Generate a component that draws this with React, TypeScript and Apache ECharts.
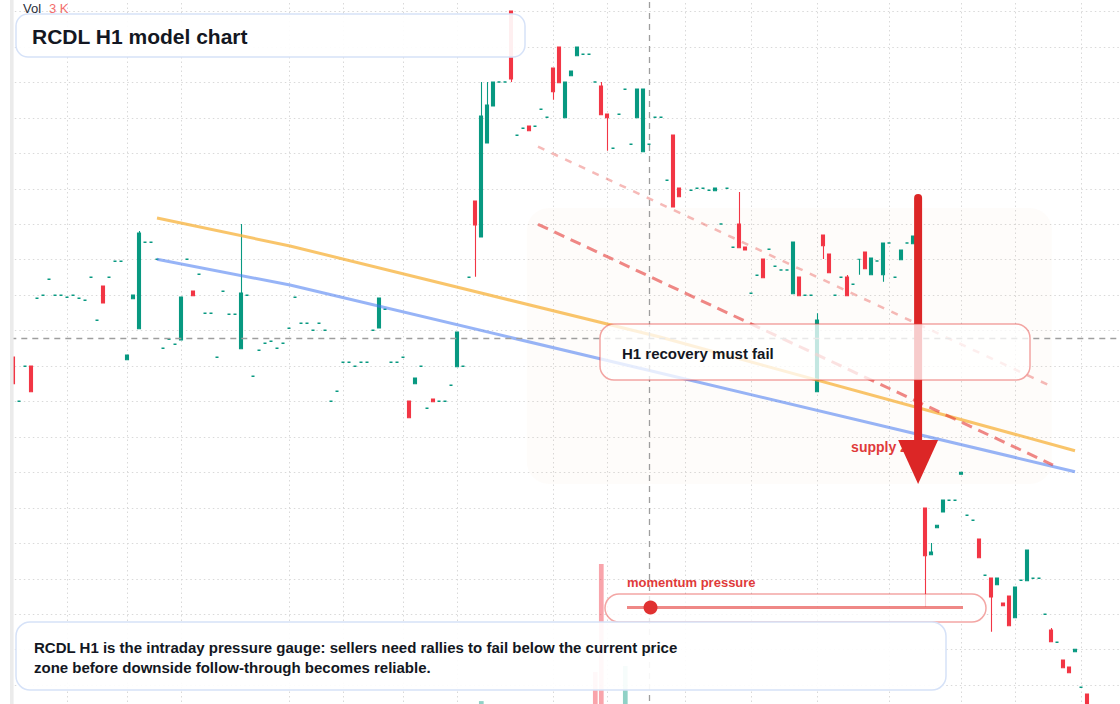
import React, { useEffect, useRef } from 'react';
import * as echarts from 'echarts';

const UP = '#089981';
const DOWN = '#F23645';
const INK = '#131722';
const ALERT = '#DC2626';
const FONT = '"Liberation Sans", Arial, sans-serif';

// slots on the time scale (the last few are still empty)
const BAR_COUNT = 185;
// one horizontal grid step on the price scale
const PRICE_STEP = 0.3545;
const PRICE_MAX = PRICE_STEP * 22;

// H1 bars as [open, close, low, high]; a single number is a flat print, null = no print
const candles: (number | number[] | null)[] = [
  [3.99, 3.723, 3.723, 3.99], 3.547, 3.897, [3.9, 3.643, 3.643, 3.9], 4.577,
  4.607, 4.767, 4.607, 4.607, 4.587, 4.607, 4.577, 4.557, 4.787, 4.357,
  [4.7, 4.53, 4.53, 4.7], 4.787, 4.947, 4.947, [3.963, 4.01, 3.963, 4.01],
  [4.573, 4.61, 4.573, 4.61], [4.273, 5.23, 4.273, 5.25], 5.137, 5.137, 4.967,
  4.077, 4.167, 4.117, [4.16, 4.59, 4.16, 4.59], 4.967,
  [4.65, 4.603, 4.603, 4.65], 4.817, 4.427, 4.427, 3.987,
  4.647, 4.417, 4.417, [4.073, 4.63, 4.073, 5.32], 4.607,
  3.797, 4.057, 4.127, 4.147, 4.077,
  4.127, 4.277, 4.587, 4.327, 4.327,
  4.257, 4.327, 4.257, 3.547, 3.647,
  3.937, 3.937, 3.897, 3.937, 3.937,
  4.257, [4.28, 4.58, 4.28, 4.58], 4.467, 3.937, 3.937,
  3.987, [3.55, 3.383, 3.383, 3.55], [3.723, 3.78, 3.723, 3.78], 3.897, 3.477,
  [3.57, 3.543, 3.543, 3.57], 3.547, 3.547, 3.707, [3.893, 4.24, 3.893, 4.24],
  3.897, 4.787, [5.55, 5.31, 4.793, 5.55], [5.19, 6.4, 5.19, 6.74], [6.13, 6.51, 6.13, 6.74],
  [6.5, 6.74, 6.5, 6.74], 6.74, 6.74, [7.45, 6.77, 6.74, 7.45], 6.207,
  6.277, [6.3, 6.253, 6.253, 6.3], 6.297, 6.467, 6.387,
  [6.88, 6.643, 6.563, 6.88], [7.09, 6.733, 6.733, 7.09], [6.383, 6.74, 6.383, 6.74], [6.803, 6.85, 6.803, 6.85], [7.003, 7.09, 7.003, 7.09],
  7.017, 7.017, 6.74, [6.7, 6.413, 6.413, 6.74], [6.42, 6.383, 6.053, 6.42],
  6.077, 6.417, 6.667, 6.117, [6.383, 6.67, 6.383, 6.67],
  [6.043, 6.67, 6.043, 6.67], 6.117, 6.387, 6.387, 5.757,
  [6.21, 5.49, 5.49, 6.21], [5.68, 5.593, 5.593, 5.68], null, 5.657, 5.677,
  5.677, 5.657, [5.653, 5.68, 5.653, 5.68], 5.32, 5.677,
  5.087, [5.32, 5.083, 5.083, 5.64], [5.09, 5.06, 5.06, 5.09], 4.627, 4.807,
  [4.97, 4.783, 4.783, 4.97], 5.067, 4.897, 4.86, 4.86,
  [4.623, 5.14, 4.623, 5.14], [4.79, 4.603, 4.603, 4.79], 4.607, 4.607, [3.643, 4.36, 3.643, 4.427],
  [5.21, 5.103, 4.97, 5.21], [5.02, 4.833, 4.833, 5.02], 4.607, 4.787, [4.79, 4.603, 4.603, 4.81],
  4.717, [4.967, 4.967, 4.813, 4.967], [5.04, 4.873, 4.873, 5.04], [4.813, 4.98, 4.813, 4.98], 4.95,
  [4.813, 5.13, 4.743, 5.13], 5.13, 4.787, [4.963, 5.06, 4.963, 5.06], 5.13,
  [5.123, 5.2, 5.123, 5.2], null, [2.48, 2.003, 1.49, 2.48], [2.013, 2.04, 2.013, 2.13], [2.283, 2.307, 2.283, 2.307],
  [2.44, 2.56, 2.44, 2.56], 2.557, 2.557, [2.817, 2.837, 2.817, 2.837], 2.407,
  2.357, [2.17, 1.983, 1.983, 2.17], 1.807, [1.78, 1.59, 1.243, 1.78], [1.713, 1.78, 1.713, 1.78],
  [1.53, 1.503, 1.503, 1.53], [1.6, 1.303, 1.303, 1.6], [1.383, 1.69, 1.383, 1.69], 1.757, [1.753, 2.06, 1.753, 2.06],
  1.777, 1.777, 1.417, [1.26, 1.143, 1.143, 1.28], 1.137,
  [0.96, 0.883, 0.883, 0.96], [0.89, 0.833, 0.833, 0.89], [1.043, 1.067, 1.043, 1.067], 0.687, [0.62, 0.44, 0.44, 0.62],
];

// bar index, volume in K (only the bars tall enough to show)
const volumes: [number, number][] = [
  [78, 3.43], [97, 4.4], [98, 8.0], [102, 4.6], [179, 3.0],
];

// session boundaries on the time scale
const sessionBreaks = [9, 19, 28, 46, 55, 65, 74, 90, 99, 112, 123, 134, 146, 158, 167, 178];

// drawn levels: [bar index, price]
const supplyCeiling = [[23.95, 5.38], [46.12, 5.1], [107.78, 4.19], [176.95, 3.053]];
const demandFloor = [[23.95, 4.967], [46.12, 4.71], [176.95, 2.843]];
const channelTop = [[87.45, 6.093], [173.12, 3.693]];
const channelBottom = [[87.45, 5.317], [173.28, 2.91]];

const crosshair = { index: 105.95, price: 4.18 };
const supplyZone = { from: 85.6, to: 173.1, top: 5.48, bottom: 2.72 };
const breakdown = { index: 150.8, from: 5.62, to: 2.72 };
const momentumPressure = 0.07;

const categories = Array.from({ length: BAR_COUNT }, (_, i) => `H${i + 1}`);

const closeAt = (i: number) => {
  const c = candles[i];
  if (c == null) return NaN;
  return typeof c === 'number' ? c : c[1];
};

const dotted = { color: '#d9d9d9', width: 1, type: [1.5, 3] as number[] };

function buildOption(): echarts.EChartsOption {
  const ohlc = categories.map((_, i) => {
    const c = candles[i];
    if (c == null) return ['-', '-', '-', '-'];
    if (typeof c === 'number') {
      // flat prints are drawn a bit heavier, like the terminal does
      return { value: [c, c, c, c], itemStyle: { borderWidth: 1.6 } };
    }
    return c;
  });

  const volumeData: any[] = categories.map(() => '-');
  volumes.forEach(([i, v]) => {
    const up = !(closeAt(i) < closeAt(i - 1));
    volumeData[i] = {
      value: v,
      itemStyle: { color: up ? 'rgba(8,153,129,0.45)' : 'rgba(242,54,69,0.45)' },
    };
  });

  const level = (data: number[][], color: string, width: number, type: any, z = 4) => ({
    type: 'line' as const,
    xAxisIndex: 1,
    yAxisIndex: 0,
    data,
    symbol: 'none',
    silent: true,
    z,
    lineStyle: { color, width, type },
  });

  return {
    animation: false,
    backgroundColor: '#ffffff',
    grid: [
      { left: 10.3, right: -0.3, top: -23.9, bottom: -52, outerBoundsMode: 'none' } as any,
      { left: 10.3, right: -0.3, top: 504, bottom: -100, outerBoundsMode: 'none' } as any,
    ],
    xAxis: [
      {
        type: 'category', gridIndex: 0, data: categories, boundaryGap: true,
        axisLine: { show: false }, axisTick: { show: false }, axisLabel: { show: false },
        splitLine: { show: false },
      },
      { type: 'value', gridIndex: 0, min: -0.5, max: BAR_COUNT - 0.5, show: false },
      { type: 'category', gridIndex: 1, data: categories, boundaryGap: true, show: false },
    ],
    yAxis: [
      {
        type: 'value', gridIndex: 0, min: 0, max: PRICE_MAX, interval: PRICE_STEP,
        axisLine: { show: false }, axisTick: { show: false }, axisLabel: { show: false },
        splitLine: { show: true, lineStyle: dotted },
      },
      { type: 'value', gridIndex: 1, min: 0, max: 10, show: false },
    ],
    series: [
      {
        type: 'line', xAxisIndex: 1, yAxisIndex: 0, data: [[0, 0]], symbol: 'none',
        lineStyle: { width: 0 }, silent: true, z: 1,
        markLine: {
          silent: true, z: 1, symbol: ['none', 'none'], label: { show: false },
          lineStyle: dotted,
          data: sessionBreaks.map((x) => ({ xAxis: x })),
        },
      },
      {
        type: 'bar', xAxisIndex: 2, yAxisIndex: 1, data: volumeData,
        barWidth: 4.7, silent: true, z: 1,
      },
      {
        type: 'candlestick', xAxisIndex: 0, yAxisIndex: 0, data: ohlc as any,
        barWidth: 3.5, z: 3,
        itemStyle: {
          color: UP, color0: DOWN, borderColor: UP, borderColor0: DOWN,
          borderColorDoji: UP, borderWidth: 1.1,
        } as any,
      },
      level(supplyCeiling, 'rgba(247,178,58,0.75)', 3, 'solid'),
      level(demandFloor, 'rgba(66,118,240,0.55)', 3, 'solid'),
      level(channelTop, 'rgba(229,57,53,0.35)', 2.5, [7, 8]),
      level(channelBottom, 'rgba(229,57,53,0.6)', 3, [11, 7]),
      {
        type: 'line', xAxisIndex: 1, yAxisIndex: 0, data: [[0, 0]], symbol: 'none',
        lineStyle: { width: 0 }, silent: true, z: 2,
        markLine: {
          silent: true, z: 5, symbol: ['none', 'none'], label: { show: false },
          lineStyle: { color: '#9e9e9e', width: 1.3, type: [6, 5] },
          data: [{ xAxis: crosshair.index }, { yAxis: crosshair.price }],
        },
      },
    ],
  };
}

function text(x: number, y: number, content: string, font: string, fill: string, z: number) {
  return {
    type: 'text', x, y, z, silent: true,
    style: {
      text: content, font, fill,
      align: 'left', verticalAlign: 'middle',
      textAlign: 'left', textVerticalAlign: 'middle',
    },
  };
}

function buildOverlay(chart: echarts.ECharts) {
  const px = (x: number, p: number) =>
    chart.convertToPixel({ xAxisIndex: 1, yAxisIndex: 0 } as any, [x, p]) as number[];
  const [zx0, zy0] = px(supplyZone.from, supplyZone.top);
  const [zx1, zy1] = px(supplyZone.to, supplyZone.bottom);
  const [ax, ay0] = px(breakdown.index, breakdown.from);
  const [, ay1] = px(breakdown.index, breakdown.to);

  const trackX0 = 627;
  const trackX1 = 963;
  const knobX = trackX0 + momentumPressure * (trackX1 - trackX0);
  const lastVol = volumes[volumes.length - 1][1];

  const blueBox = { fill: 'rgba(255,255,255,0.92)', stroke: '#d6e2f8', lineWidth: 1.5 };
  const redBox = (fill: string) => ({ fill, stroke: 'rgba(229,57,53,0.45)', lineWidth: 1.5 });

  return [
    {
      type: 'rect', z: 1, silent: true,
      shape: { x: zx0, y: zy0, width: zx1 - zx0, height: zy1 - zy0, r: 22 },
      style: { fill: 'rgba(235,190,160,0.05)' },
    },
    text(ax - 67, ay1 - 37, 'supply zone', `bold 14px ${FONT}`, '#E03A3A', 10),
    {
      type: 'line', z: 20, silent: true,
      shape: { x1: ax, y1: ay0 + 4, x2: ax, y2: ay1 - 40 },
      style: { stroke: ALERT, lineWidth: 8, lineCap: 'round' },
    },
    {
      type: 'polygon', z: 20, silent: true,
      shape: { points: [[ax - 20, ay1 - 44], [ax + 20, ay1 - 44], [ax, ay1]] },
      style: { fill: ALERT },
    },
    {
      type: 'rect', z: 30, silent: true,
      shape: { x: 600, y: 324, width: 430, height: 56, r: 14 },
      style: redBox('rgba(255,255,255,0.76)'),
    },
    text(622, 353, 'H1 recovery must fail', `bold 15px ${FONT}`, INK, 31),
    text(627, 582, 'momentum pressure', `bold 13px ${FONT}`, '#E03A3A', 31),
    {
      type: 'rect', z: 30, silent: true,
      shape: { x: 605, y: 594, width: 381, height: 28, r: 14 },
      style: redBox('rgba(255,255,255,0.75)'),
    },
    {
      type: 'line', z: 31, silent: true,
      shape: { x1: trackX0, y1: 607.5, x2: trackX1, y2: 607.5 },
      style: { stroke: 'rgba(229,57,53,0.6)', lineWidth: 3 },
    },
    {
      type: 'circle', z: 32, silent: true,
      shape: { cx: knobX, cy: 607.5, r: 7 },
      style: { fill: '#E03131' },
    },
    {
      type: 'rect', z: 40, silent: true,
      shape: { x: 16, y: 622, width: 930, height: 68, r: 14 },
      style: blueBox,
    },
    text(34, 647, 'RCDL H1 is the intraday pressure gauge: sellers need rallies to fail below the current price',
      `bold 15px ${FONT}`, INK, 41),
    text(34, 667, 'zone before downside follow-through becomes reliable.', `bold 15px ${FONT}`, INK, 41),
    {
      type: 'rect', z: 40, silent: true,
      shape: { x: 16, y: 14, width: 509, height: 43, r: 12 },
      style: blueBox,
    },
    text(32, 36, 'RCDL H1 model chart', `bold 21px ${FONT}`, INK, 41),
    text(23, 8.5, 'Vol', `13px ${FONT}`, '#2a2e39', 41),
    text(49, 8.5, `${Math.round(lastVol)} K`, `13px ${FONT}`, '#F36D6D', 41),
    {
      type: 'rect', z: 50, silent: true,
      shape: { x: 10, y: 0, width: 3.6, height: 704 },
      style: { fill: '#ebebeb' },
    },
  ];
}

export default function App() {
  const ref = useRef<HTMLDivElement>(null);

  useEffect(() => {
    document.body.style.margin = '0';
    if (!ref.current) return;
    const chart = echarts.init(ref.current, undefined, { renderer: 'svg' });
    chart.setOption(buildOption());
    chart.setOption({ graphic: buildOverlay(chart) as any });
    return () => chart.dispose();
  }, []);

  return <div ref={ref} style={{ width: 1120, height: 704 }} />;
}
